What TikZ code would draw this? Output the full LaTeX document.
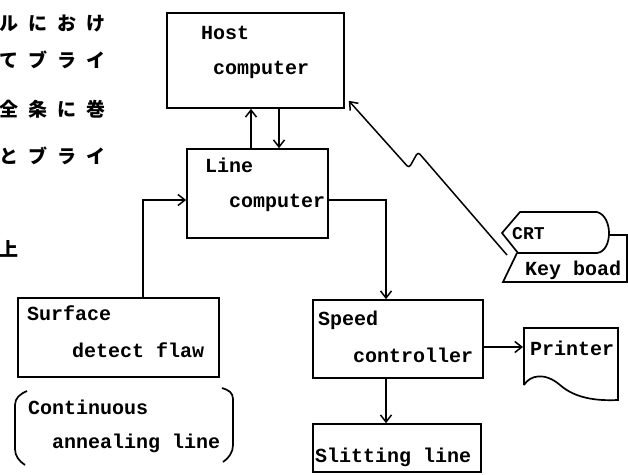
\documentclass[tikz,border=0pt]{standalone}
\usepackage{fontspec}
\setmonofont{Liberation Mono}
\newfontfamily\jpfont{Noto Sans CJK JP}
\usetikzlibrary{arrows.meta}
\begin{document}
\begin{tikzpicture}[x=1pt,y=-1pt,
  boxline/.style={line width=1.7pt, line join=miter},
  box/.style={boxline, draw, rectangle, inner sep=0pt},
  conn/.style={line width=1.5pt},
  arr/.style={conn, -{Straight Barb[length=7pt,width=11pt,line width=1.5pt]}},
  lbl/.style={font=\ttfamily\bfseries\fontsize{20}{24}\selectfont, inner sep=0pt, anchor=base west},
  small/.style={font=\ttfamily\bfseries\fontsize{18}{22}\selectfont, inner sep=0pt, anchor=base west},
  jp/.style={font=\jpfont\bfseries\fontsize{19}{22}\selectfont, inner sep=0pt, anchor=west}]
\useasboundingbox (0,0) rectangle (628,474);

% Japanese text fragments
\newcommand{\jc}[1]{\makebox[29pt][c]{#1}}
\node[jp] (j1) at (-5.5,24) {\jc{ル}\jc{に}\jc{お}\jc{け}};
\node[jp] (j2) at (-5.5,60) {\jc{て}\jc{ブ}\jc{ラ}\jc{イ}};
\node[jp] (j3) at (-5.5,109) {\jc{全}\jc{条}\jc{に}\jc{巻}};
\node[jp] (j4) at (-5.5,156) {\jc{と}\jc{ブ}\jc{ラ}\jc{イ}};
\node[jp] (j5) at (-5.5,249) {\jc{上}};

% boxes
\node[box, minimum width=177pt, minimum height=95pt] (host) at (255.5,60.5) {};
\node[box, minimum width=141pt, minimum height=89pt] (line) at (257.5,193.5) {};
\node[box, minimum width=201pt, minimum height=79pt] (surf) at (118.5,337.5) {};
\node[box, minimum width=170pt, minimum height=78pt] (speed) at (398,339) {};
\node[box, minimum width=168pt, minimum height=48pt] (slit) at (397,448) {};

% brackets
\draw[boxline] (27,391) .. controls (20,394) and (15,398) .. (15,405) -- (15,449) .. controls (15,456) and (19,461) .. (25,465);
\draw[boxline] (222,388) .. controls (229,390) and (233,393) .. (233,399) -- (233,445) .. controls (233,452) and (229,458) .. (223,462);

% printer outline
\draw[boxline] (524,385) -- (524,328) -- (618,328) -- (618,400)
  .. controls (595,401) and (575,398) .. (560,385)
  .. controls (545,372) and (530,375) .. (524,385);

% CRT + keyboard
\draw[boxline] (517,253) -- (503,282) -- (627,282) -- (627,235) -- (608,235);
\draw[boxline, fill=white] (502,233) -- (520,212) -- (597,212)
  .. controls (605,214) and (609,224) .. (609,233)
  .. controls (609,243) and (605,252) .. (597,253) -- (518,253) -- cycle;

% labels
\node[lbl] (t-host1) at (201,39) {Host};
\node[lbl] (t-host2) at (213,74) {computer};
\node[lbl] (t-line1) at (205,172) {Line};
\node[lbl] (t-line2) at (229,207) {computer};
\node[lbl] (t-surf1) at (27,320) {Surface};
\node[lbl] (t-surf2) at (72,357) {detect flaw};
\node[lbl] (t-cont1) at (28,414) {Continuous};
\node[lbl] (t-cont2) at (52,448) {annealing line};
\node[lbl] (t-spd1) at (318,325) {Speed};
\node[lbl] (t-spd2) at (353,362) {controller};
\node[lbl] (t-slit) at (315,462) {Slitting line};
\node[lbl] (t-prt) at (530,355) {Printer};
\node[small] (t-crt) at (512,239) {CRT};
\node[lbl] (t-kbd) at (525,275) {Key boad};

% connectors
\draw[arr] ([xshift=-6.5pt]line.north) -- ([xshift=-6.5pt]line.north |- host.south);
\draw[arr] ([xshift=23.5pt]host.south) -- ([xshift=23.5pt]host.south |- line.north);
\draw[arr] ([yshift=-6.5pt]line.east) -| ([xshift=-12pt]speed.north);
\draw[arr] ([xshift=24.5pt]surf.north) |- ([yshift=-6.5pt]line.west);
\draw[arr] ([xshift=-12pt]speed.south) -- ([xshift=-12pt]speed.south |- slit.north);
\coordinate (pin) at (523,347);
\draw[arr] ([yshift=-8pt]speed.east) -- (pin);
\coordinate (kb) at (507,255);
\draw[arr, rounded corners=3pt] (kb) -- (418,152) -- (409,168) -- ([xshift=4pt,yshift=8pt]host.south east);
\end{tikzpicture}
\end{document}
